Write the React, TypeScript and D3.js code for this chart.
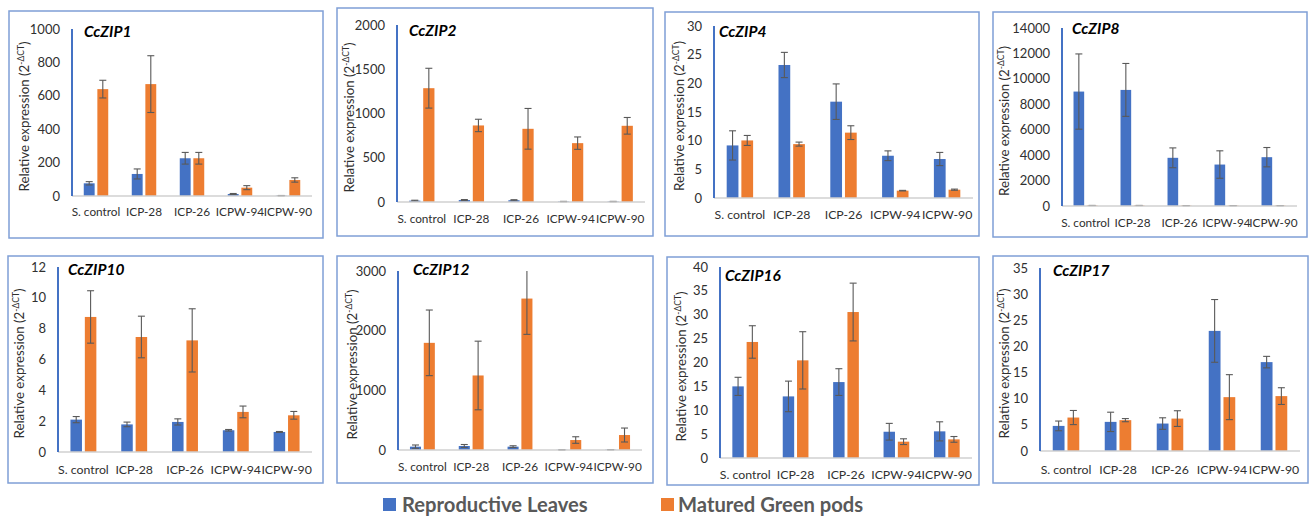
import React from "react";
import * as d3 from "d3";

const categories = ["S. control", "ICP-28", "ICP-26", "ICPW-94", "ICPW-90"];
const seriesNames = ["Reproductive Leaves", "Matured Green pods"];

const zip1Leaves = [76, 132, 226, 12, 2];
const zip1LeavesErr = [10, 30, 35, 3, 1];
const zip1Pods = [640, 670, 226, 50, 96];
const zip1PodsErr = [53, 170, 35, 12, 13];

const zip2Leaves = [15, 22, 20, 5, 5];
const zip2LeavesErr = [5, 6, 6, 2, 2];
const zip2Pods = [1286, 865, 827, 665, 861];
const zip2PodsErr = [225, 70, 230, 70, 94];

const zip4Leaves = [9.17, 23.2, 16.8, 7.37, 6.8];
const zip4LeavesErr = [2.55, 2.2, 3.1, 0.85, 1.15];
const zip4Pods = [10.04, 9.4, 11.4, 1.28, 1.45];
const zip4PodsErr = [0.87, 0.35, 1.2, 0.05, 0.1];

const zip8Leaves = [9000, 9130, 3790, 3260, 3840];
const zip8LeavesErr = [2960, 2080, 780, 1080, 760];
const zip8Pods = [40, 40, 30, 30, 30];
const zip8PodsErr = [5, 5, 5, 5, 5];

const zip10Leaves = [2.1, 1.79, 1.95, 1.41, 1.3];
const zip10LeavesErr = [0.2, 0.15, 0.2, 0.05, 0.03];
const zip10Pods = [8.76, 7.46, 7.24, 2.6, 2.38];
const zip10PodsErr = [1.7, 1.35, 2.05, 0.38, 0.25];

const zip12Leaves = [56, 67, 56, 3, 5];
const zip12LeavesErr = [28, 25, 15, 1, 2];
const zip12Pods = [1796, 1249, 2538, 167, 251];
const zip12PodsErr = [550, 575, 600, 55, 117];

const zip16Leaves = [15.0, 12.9, 15.9, 5.5, 5.58];
const zip16LeavesErr = [1.9, 3.2, 2.8, 1.75, 2];
const zip16Pods = [24.3, 20.45, 30.57, 3.42, 3.9];
const zip16PodsErr = [3.4, 6, 6.05, 0.6, 0.6];

const zip17Leaves = [4.8, 5.57, 5.25, 22.97, 17.0];
const zip17LeavesErr = [0.93, 1.85, 1.1, 6, 1.1];
const zip17Pods = [6.4, 5.9, 6.2, 10.3, 10.5];
const zip17PodsErr = [1.35, 0.3, 1.5, 4.3, 1.6];

const genes = ["CcZIP1", "CcZIP2", "CcZIP4", "CcZIP8", "CcZIP10", "CcZIP12", "CcZIP16", "CcZIP17"];
const yMaxes = [1000, 2000, 30, 14000, 12, 3000, 40, 35];
const yTickSteps = [200, 500, 5, 2000, 2, 1000, 5, 5];

const geneData = [
  [zip1Leaves, zip1LeavesErr, zip1Pods, zip1PodsErr],
  [zip2Leaves, zip2LeavesErr, zip2Pods, zip2PodsErr],
  [zip4Leaves, zip4LeavesErr, zip4Pods, zip4PodsErr],
  [zip8Leaves, zip8LeavesErr, zip8Pods, zip8PodsErr],
  [zip10Leaves, zip10LeavesErr, zip10Pods, zip10PodsErr],
  [zip12Leaves, zip12LeavesErr, zip12Pods, zip12PodsErr],
  [zip16Leaves, zip16LeavesErr, zip16Pods, zip16PodsErr],
  [zip17Leaves, zip17LeavesErr, zip17Pods, zip17PodsErr],
];

// layout (pixel geometry) per panel
const layouts = [
  { box: [9, 11, 323, 238], ax: 72, top: 29, bottom: 196, right: 312, title: [84, 37], ylab: 25, xlab: 216, xfs: 11.8 },
  { box: [337, 8, 653, 236], ax: 397, top: 25, bottom: 202, right: 645, title: [409, 36], ylab: 350, xlab: 223, xfs: 11.8 },
  { box: [665, 12, 979, 236], ax: 714, top: 26, bottom: 198, right: 973, title: [719, 37], ylab: 680, xlab: 219, xfs: 12.3 },
  { box: [993, 12, 1307, 237], ax: 1062, top: 28, bottom: 206, right: 1297, title: [1072, 34], ylab: 1005, xlab: 227, xfs: 11.8 },
  { box: [8, 256, 323, 483], ax: 58, top: 267, bottom: 452, right: 312, title: [68, 275], ylab: 20, xlab: 474, xfs: 12.3 },
  { box: [337, 256, 653, 483], ax: 398, top: 271, bottom: 450, right: 642, title: [413, 275], ylab: 353, xlab: 471, xfs: 11.8 },
  { box: [667, 257, 979, 485], ax: 720, top: 267, bottom: 458, right: 972, title: [725, 281], ylab: 682, xlab: 479, xfs: 12.3 },
  { box: [993, 256, 1308, 483], ax: 1040, top: 268, bottom: 451, right: 1300, title: [1053, 276], ylab: 1005, xlab: 474, xfs: 12.3 },
];

const BLUE = "#4472C4";
const ORANGE = "#ED7D31";
const FONT = "Lato, 'Open Sans', sans-serif";
const TEXT = "#303030";

function Panel({ i }: { i: number }) {
  const L = layouts[i];
  const [lv, le, pv, pe] = geneData[i];
  const yMax = yMaxes[i];
  const step = yTickSteps[i];
  const y = d3.scaleLinear().domain([0, yMax]).range([L.bottom, L.top]);
  const x = d3.scaleBand<string>().domain(categories).range([L.ax, L.right]).paddingInner(0.49).paddingOuter(0.245);
  const xs = d3.scaleBand<string>().domain(seriesNames).range([0, x.bandwidth()]).paddingInner(0.2);
  const ticks = d3.range(0, yMax + step / 2, step);
  const [bx0, by0, bx1, by1] = L.box;
  const series = [
    { name: seriesNames[0], vals: lv, errs: le, color: BLUE },
    { name: seriesNames[1], vals: pv, errs: pe, color: ORANGE },
  ];
  const ylabCenter = (L.top + L.bottom) / 2 + 4;
  return (
    <g>
      <rect x={bx0} y={by0} width={bx1 - bx0} height={by1 - by0} fill="white" stroke="#7F9FD6" strokeWidth={1.5} />
      {ticks.map((t) => (
        <text key={t} x={L.ax - 12} y={y(t)} dy="0.35em" textAnchor="end" fontSize={13} fontFamily={FONT} fill={TEXT}>
          {d3.format("d")(t)}
        </text>
      ))}
      {series.map((s) =>
        categories.map((c, k) => {
          const bx = (x(c) as number) + (xs(s.name) as number);
          const w = xs.bandwidth();
          const v = s.vals[k];
          const e = s.errs[k];
          const cx = bx + w / 2;
          const yHi = y(Math.min(v + e, yMax));
          const yLo = y(Math.max(v - e, 0));
          return (
            <g key={s.name + c}>
              <rect x={bx} y={y(v)} width={w} height={L.bottom - y(v)} fill={s.color} />
              <line x1={cx} x2={cx} y1={yHi} y2={yLo} stroke="#595959" strokeWidth={1.1} />
              {v + e <= yMax && <line x1={cx - 3.5} x2={cx + 3.5} y1={yHi} y2={yHi} stroke="#595959" strokeWidth={1.1} />}
              <line x1={cx - 3.5} x2={cx + 3.5} y1={yLo} y2={yLo} stroke="#595959" strokeWidth={1.1} />
            </g>
          );
        })
      )}
      <line x1={L.ax} x2={L.right} y1={L.bottom} y2={L.bottom} stroke="#D0D0D0" strokeWidth={1.5} />
      <line x1={L.ax} x2={L.ax} y1={L.top} y2={L.bottom} stroke={BLUE} strokeWidth={2} />
      {categories.map((c) => (
        <text key={c} x={(x(c) as number) + x.bandwidth() / 2} y={L.xlab} textAnchor="middle" fontSize={L.xfs} fontFamily={FONT} fill={TEXT}>
          {c}
        </text>
      ))}
      <text x={L.title[0]} y={L.title[1]} fontSize={15.5} fontWeight="bold" fontStyle="italic" fontFamily={FONT} fill="#000">
        {genes[i]}
      </text>
      <text
        transform={`translate(${L.ylab + 4},${ylabCenter}) rotate(-90)`}
        textAnchor="middle"
        fontSize={13.3}
        fontFamily={FONT}
        fill={TEXT}
      >
        Relative expression (2
        <tspan fontSize={8.5} dy={-5}>-ΔCT</tspan>
        <tspan dy={5}>)</tspan>
      </text>
    </g>
  );
}

export default function App() {
  return (
    <svg width={1309} height={518} style={{ position: "absolute", left: 0, top: 0, background: "white" }}>
      <rect width={1309} height={518} fill="white" />
      {layouts.map((_, i) => (
        <Panel key={i} i={i} />
      ))}
      <g>
        <rect x={383} y={498} width={13} height={13} fill={BLUE} />
        <text x={402} y={512} fontSize={20.2} fontWeight="bold" fontFamily={FONT} fill="#595959">
          {seriesNames[0]}
        </text>
        <rect x={661} y={498} width={13} height={13} fill={ORANGE} />
        <text x={678} y={512} fontSize={20.2} fontWeight="bold" fontFamily={FONT} fill="#595959">
          {seriesNames[1]}
        </text>
      </g>
    </svg>
  );
}
